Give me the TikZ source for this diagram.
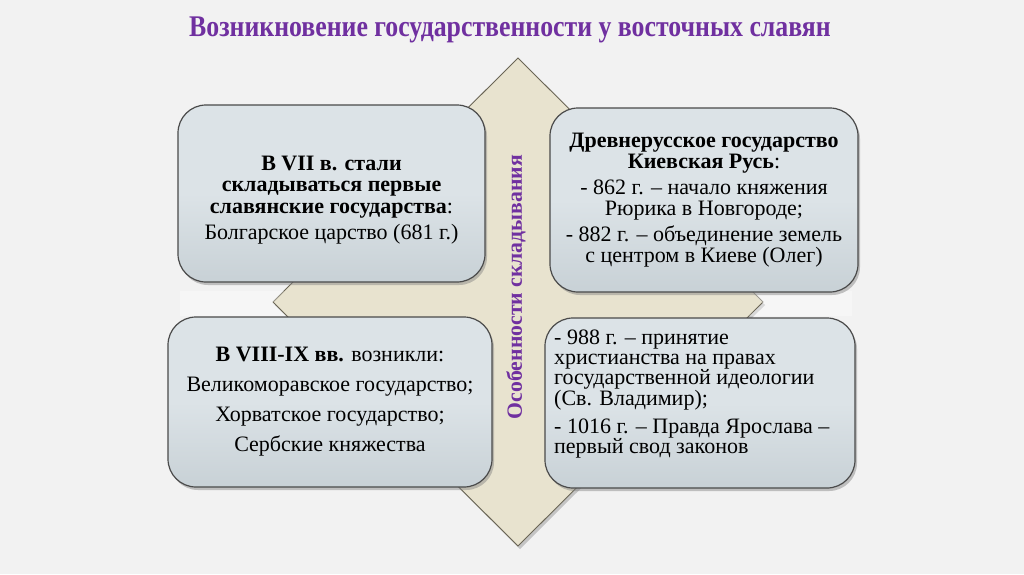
\documentclass[tikz,border=0pt]{standalone}
\usepackage{fontspec}
\setmainfont{Liberation Serif}
\usetikzlibrary{shadows}

\definecolor{slidebg}{HTML}{F2F2F2}
\definecolor{titlepurple}{HTML}{7030A0}
\definecolor{boxtop}{HTML}{DCE3E7}
\definecolor{boxbottom}{HTML}{C8D1D6}
\definecolor{boxline}{HTML}{4A4A4A}
\definecolor{beige}{HTML}{E8E3CF}
\definecolor{beigeline}{HTML}{6A6555}

\tikzset{
  infobox/.style={rounded corners=28pt, draw=boxline, line width=1.2pt,
    top color=boxtop, bottom color=boxbottom, middle color=boxtop,
    drop shadow={opacity=0.45, shadow xshift=2pt, shadow yshift=-3pt},
    align=center, inner sep=0pt, font=\fontsize{22}{21.5}\selectfont},
  boxtext/.style={align=center, inner sep=0pt, font=\fontsize{22}{21.5}\selectfont}
}

\begin{document}
\begin{tikzpicture}[x=1pt,y=-1pt]
\useasboundingbox[fill=slidebg] (0,0) rectangle (1024,574);
% title
\node (title) at (510,30) {\scalebox{0.86}[1]{\fontsize{30}{30}\selectfont\bfseries\color{titlepurple}Возникновение государственности у восточных славян}};
% background diamond
\filldraw[fill=beige, draw=beigeline, line width=0.9pt,
  drop shadow={opacity=0.4, shadow xshift=2pt, shadow yshift=-3pt}]
  (518,58) -- (763,302) -- (518,546) -- (273,302) -- cycle;
\fill[white, opacity=0.35] (180,291) -- (284,291) -- (272,303.5) -- (286,316) -- (180,316) -- cycle;
\fill[white, opacity=0.35] (751,291) -- (852,291) -- (852,316) -- (749,316) -- (763,303.5) -- cycle;
% boxes
\node[infobox, minimum width=307pt, minimum height=177pt] (vii) at (331.5,193.5) {};
\node[boxtext] (viitext) at (331.5,200)
  {\textbf{В VII в. стали}\\\textbf{складываться первые}\\\textbf{славянские государства}:\\[5pt]
   Болгарское царство (681 г.)};
\node[infobox, minimum width=308pt, minimum height=184pt] (rus) at (704,200)
  {\textbf{Древнерусское государство}\\\textbf{Киевская Русь}:\\[4pt]
   - 862 г. – начало княжения\\Рюрика в Новгороде;\\[4pt]
   - 882 г. – объединение земель\\с центром в Киеве (Олег)};
\node[infobox, minimum width=324pt, minimum height=170pt,
  font=\fontsize{22}{30}\selectfont] (viii) at (330,402)
  {\textbf{В VIII-IX вв.} возникли:\\Великоморавское государство;\\Хорватское государство;\\Сербские княжества};
\node[infobox, minimum width=310pt, minimum height=170pt] (kiev) at (700,403) {};
\node[boxtext, anchor=west, align=left, font=\fontsize{22}{20}\selectfont] (events) at (554,394)
  {- 988 г. – принятие\\христианства на правах\\государственной идеологии\\(Св. Владимир);\\[8pt]
   - 1016 г. – Правда Ярослава –\\первый свод законов};
% rotated caption
\node[rotate=90, text=titlepurple, font=\fontsize{21.7}{21.7}\selectfont\bfseries] (features) at (516,287) {Особенности складывания};
\end{tikzpicture}
\end{document}
